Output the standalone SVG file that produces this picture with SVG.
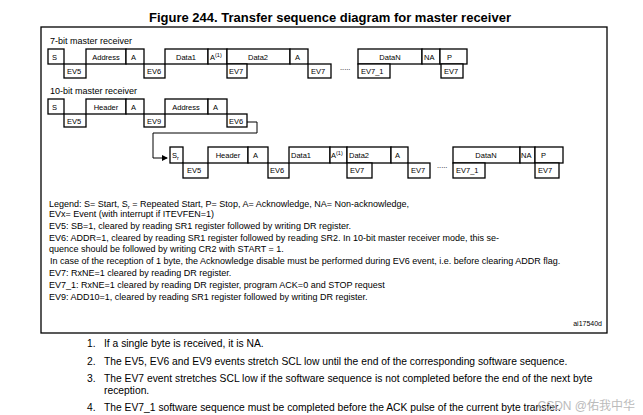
<svg xmlns="http://www.w3.org/2000/svg" width="643" height="415" viewBox="0 0 643 415">
<style>
text{font-family:"Liberation Sans",Arial,sans-serif;fill:#000}
.b{fill:#fff;stroke:#000;stroke-width:1.3}
.l{font-size:7.5px}
.c{text-anchor:middle}
.g{font-size:9px}
.f{font-size:10.3px}
</style>
<defs><marker id="ar" markerWidth="6" markerHeight="6" refX="5" refY="3" orient="auto" markerUnits="userSpaceOnUse"><path d="M0,0L6,3L0,6z"/></marker></defs>
<rect width="643" height="415" fill="#fff"/>
<text x="330" y="22" class="c" style="font-size:13px;font-weight:bold">Figure 244. Transfer sequence diagram for master receiver</text>
<rect x="41" y="27" width="566" height="306" fill="none" stroke="#000" stroke-width="1.3"/>
<text x="50" y="44" class="g">7-bit master receiver</text>
<text x="50" y="94" class="g">10-bit master receiver</text>
<g id="row1">
<rect class="b" x="48" y="49" width="16" height="15"/><text class="l" x="52" y="60">S</text>
<rect class="b" x="64" y="64" width="22" height="14"/><text class="l" x="67" y="74">EV5</text>
<rect class="b" x="86" y="49" width="40" height="15"/><text class="l c" x="106" y="60">Address</text>
<rect class="b" x="126" y="49" width="18" height="15"/><text class="l" x="131" y="60">A</text>
<rect class="b" x="144" y="64" width="21" height="14"/><text class="l" x="147" y="74">EV6</text>
<rect class="b" x="165" y="49" width="43" height="15"/><text class="l c" x="186" y="60">Data1</text>
<rect class="b" x="208" y="49" width="19" height="15"/><text class="l" x="210" y="60">A<tspan font-size="5.5" dy="-3">(1)</tspan></text>
<rect class="b" x="227" y="49" width="63" height="15"/><text class="l c" x="258" y="60">Data2</text>
<rect class="b" x="227" y="64" width="20" height="14"/><text class="l" x="229" y="74">EV7</text>
<rect class="b" x="290" y="49" width="18" height="15"/><text class="l" x="295" y="60">A</text>
<rect class="b" x="308" y="64" width="23" height="14"/><text class="l" x="311" y="74">EV7</text>
<text class="l" x="340" y="70">.....</text>
<rect class="b" x="358" y="49" width="64" height="15"/><text class="l c" x="390" y="60">DataN</text>
<rect class="b" x="358" y="64" width="32" height="14"/><text class="l" x="361" y="74">EV7_1</text>
<rect class="b" x="422" y="49" width="18" height="15"/><text class="l" x="424" y="60">NA</text>
<rect class="b" x="440" y="49" width="27" height="15"/><text class="l" x="447" y="60">P</text>
<rect class="b" x="441" y="64" width="22" height="14"/><text class="l" x="444" y="74">EV7</text>
</g>
<g id="row2">
<rect class="b" x="48" y="99" width="16" height="15"/><text class="l" x="52" y="110">S</text>
<rect class="b" x="64" y="114" width="22" height="13"/><text class="l" x="67" y="124">EV5</text>
<rect class="b" x="86" y="99" width="40" height="15"/><text class="l c" x="106" y="110">Header</text>
<rect class="b" x="126" y="99" width="18" height="15"/><text class="l" x="131" y="110">A</text>
<rect class="b" x="144" y="114" width="21" height="13"/><text class="l" x="147" y="124">EV9</text>
<rect class="b" x="165" y="99" width="43" height="15"/><text class="l c" x="186" y="110">Address</text>
<rect class="b" x="208" y="99" width="19" height="15"/><text class="l" x="213" y="110">A</text>
<rect class="b" x="227" y="114" width="20" height="13"/><text class="l" x="229" y="124">EV6</text>
</g>
<g id="connectors">
<path d="M247,122H257V133H153V158H167" fill="none" stroke="#000" stroke-width="1" marker-end="url(#ar)"/>
</g>
<g id="row3">
<rect class="b" x="170" y="147" width="13" height="16"/><text class="l" x="172" y="158">S<tspan font-size="5.5" dy="2">r</tspan></text>
<rect class="b" x="183" y="163" width="25" height="15"/><text class="l" x="187" y="173">EV5</text>
<rect class="b" x="208" y="147" width="40" height="16"/><text class="l c" x="228" y="158">Header</text>
<rect class="b" x="248" y="147" width="20" height="16"/><text class="l" x="253" y="158">A</text>
<rect class="b" x="268" y="163" width="21" height="15"/><text class="l" x="270" y="173">EV6</text>
<rect class="b" x="289" y="147" width="41" height="16"/><text class="l" x="291" y="158">Data1</text>
<rect class="b" x="330" y="147" width="17" height="16"/><text class="l" x="331" y="158">A<tspan font-size="5.5" dy="-3">(1)</tspan></text>
<rect class="b" x="347" y="147" width="44" height="16"/><text class="l" x="349" y="158">Data2</text>
<rect class="b" x="347" y="163" width="25" height="15"/><text class="l" x="350" y="173">EV7</text>
<rect class="b" x="391" y="147" width="17" height="16"/><text class="l" x="395" y="158">A</text>
<rect class="b" x="408" y="163" width="22" height="15"/><text class="l" x="411" y="173">EV7</text>
<text class="l" x="437" y="168">.....</text>
<rect class="b" x="453" y="147" width="67" height="16"/><text class="l c" x="486" y="158">DataN</text>
<rect class="b" x="453" y="163" width="32" height="15"/><text class="l" x="456" y="173">EV7_1</text>
<rect class="b" x="520" y="147" width="15" height="16"/><text class="l" x="521" y="158">NA</text>
<rect class="b" x="535" y="147" width="28" height="16"/><text class="l" x="541" y="158">P</text>
<rect class="b" x="535" y="163" width="24" height="15"/><text class="l" x="538" y="173">EV7</text>
</g>
<g id="legend" class="g">
<text x="49" y="207">Legend: S= Start, S<tspan font-size="6" dy="2">r</tspan><tspan dy="-2"> = Repeated Start, P= Stop, A= Acknowledge, NA= Non-acknowledge,</tspan></text>
<text x="49" y="217">EVx= Event (with interrupt if ITEVFEN=1)</text>
<text x="49" y="229">EV5: SB=1, cleared by reading SR1 register followed by writing DR register.</text>
<text x="49" y="241">EV6: ADDR=1, cleared by reading SR1 register followed by reading SR2. In 10-bit master receiver mode, this se-</text>
<text x="49" y="252">quence should be followed by writing CR2 with START = 1.</text>
<text x="50" y="264">In case of the reception of 1 byte, the Acknowledge disable must be performed during EV6 event, i.e. before clearing ADDR flag.</text>
<text x="49" y="276">EV7: RxNE=1 cleared by reading DR register.</text>
<text x="49" y="288">EV7_1: RxNE=1 cleared by reading DR register, program ACK=0 and STOP request</text>
<text x="49" y="300">EV9: ADD10=1, cleared by reading SR1 register followed by writing DR register.</text>
<text x="602" y="326" style="font-size:7px;text-anchor:end">ai17540d</text>
</g>
<g id="notes" class="f">
<text x="87" y="347">1.</text><text x="104" y="347">If a single byte is received, it is NA.</text>
<text x="87" y="365">2.</text><text x="104" y="365">The EV5, EV6 and EV9 events stretch SCL low until the end of the corresponding software sequence.</text>
<text x="87" y="382">3.</text><text x="104" y="382">The EV7 event stretches SCL low if the software sequence is not completed before the end of the next byte</text>
<text x="104" y="394">reception.</text>
<text x="87" y="411">4.</text><text x="104" y="411">The EV7_1 software sequence must be completed before the ACK pulse of the current byte transfer.</text>
</g>
<text x="635" y="410" style="font-size:12px;fill:#bbb;text-anchor:end;font-family:'Liberation Sans','Noto Sans CJK SC',sans-serif">CSDN @佑我中华</text>
</svg>
